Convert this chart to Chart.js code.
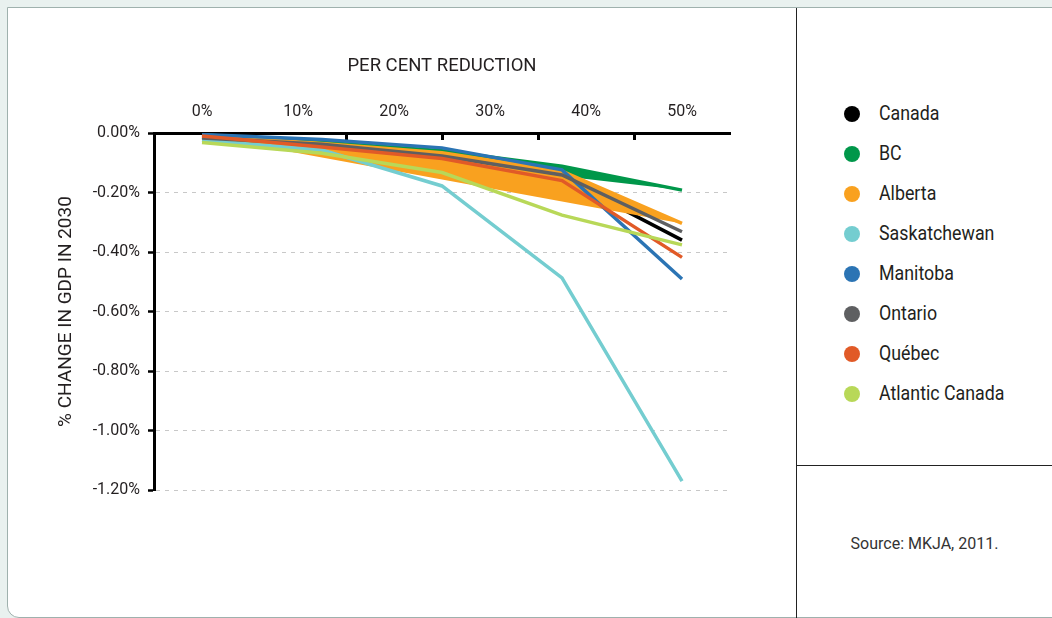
<!DOCTYPE html>
<html>
<head>
<meta charset="utf-8">
<script src="https://cdn.jsdelivr.net/npm/chart.js@4.4.1/dist/chart.umd.min.js"></script>
<style>
  html, body { margin: 0; padding: 0; }
  body {
    width: 1052px; height: 618px; position: relative; overflow: hidden;
    background: #e9f1ef;
    font-family: Roboto, "Liberation Sans", sans-serif;
    color: #231f20;
  }
  .card {
    position: absolute; left: 7px; top: 7px; width: 1070px; height: 609px;
    background: #fff; border: 1px solid #9fb1ad; border-radius: 0 0 0 12px;
  }
  .vline { position: absolute; left: 796px; top: 8px; width: 1px; height: 620px; background: #222; }
  .hline { position: absolute; left: 796px; top: 465px; width: 260px; height: 1px; background: #222; }
  #chart { position: absolute; left: 0; top: 0; }
  #legend { position: absolute; left: 844px; top: 93px; margin: 0; padding: 0; list-style: none; }
  #legend li { height: 40px; line-height: 40px; font-size: 20px; white-space: nowrap; }
  #legend .dot {
    display: inline-block; width: 16px; height: 16px; border-radius: 50%;
    vertical-align: middle; margin-right: 19px; position: relative; top: -1px;
  }
  #legend .name { display: inline-block; transform: scaleX(0.89); transform-origin: left center; }
  .source { position: absolute; left: 797px; width: 255px; top: 534px; text-align: center; font-size: 16px; color: #333; }
</style>
</head>
<body>
<div class="card"></div>
<div class="vline"></div>
<div class="hline"></div>
<canvas id="chart" width="796" height="618"></canvas>
<ul id="legend"></ul>
<div class="source">Source: MKJA, 2011.</div>

<script>
// per cent reduction levels (x) and % change in GDP in 2030 (y)
const reductions = [0, 12.5, 25, 37.5, 50];

const canada       = [-0.014, -0.036, -0.075, -0.150, -0.360];
const bc           = [-0.006, -0.031, -0.060, -0.112, -0.192];
const alberta      = [-0.008, -0.035, -0.066, -0.128, -0.304];
const saskatchewan = [-0.024, -0.057, -0.178, -0.487, -1.170];
const manitoba     = [-0.005, -0.022, -0.050, -0.124, -0.491];
const ontario      = [-0.017, -0.038, -0.077, -0.141, -0.332];
const quebec       = [-0.010, -0.047, -0.086, -0.160, -0.418];
const atlantic     = [-0.032, -0.068, -0.133, -0.276, -0.376];

const regionNames = ['Canada', 'BC', 'Alberta', 'Saskatchewan', 'Manitoba', 'Ontario', 'Québec', 'Atlantic Canada'];
const regionValues = [canada, bc, alberta, saskatchewan, manitoba, ontario, quebec, atlantic];
const regionColors = ['#000000', '#00974a', '#f9a11f', '#74cdd0', '#2b74b4', '#5e5f61', '#e15a27', '#b8d858'];
// BC and Alberta are drawn as closed shapes in the original
const regionFill = [false, 'shape', 'shape', false, false, false, false, false];

const xTickLabels = ['0%', '10%', '20%', '30%', '40%', '50%'];

Chart.defaults.font.family = 'Roboto, "Liberation Sans", sans-serif';
Chart.defaults.color = '#231f20';

// Legend (HTML, right panel)
const legendEl = document.getElementById('legend');
regionNames.forEach((name, i) => {
  const li = document.createElement('li');
  li.innerHTML = '<span class="dot" style="background:' + regionColors[i] + '"></span><span class="name">' + name + '</span>';
  legendEl.appendChild(li);
});

const datasets = regionNames.map((name, i) => ({
  label: name,
  data: reductions.map((x, j) => ({ x: x, y: regionValues[i][j] })),
  borderColor: regionColors[i],
  backgroundColor: regionColors[i],
  borderWidth: 3.5,
  fill: regionFill[i],
  tension: 0,
  pointRadius: 0,
  order: regionNames.length - i // first series at the bottom, like the original
}));

new Chart(document.getElementById('chart'), {
  type: 'line',
  data: { datasets: datasets },
  options: {
    responsive: false,
    animation: false,
    layout: { padding: { left: 0, top: 0, right: 66, bottom: 128 } },
    plugins: {
      legend: { display: false },
      tooltip: { enabled: false }
    },
    scales: {
      x: {
        type: 'linear',
        position: 'top',
        min: -5,
        max: 55,
        afterFit: (scale) => { scale.height = 133; },
        ticks: {
          stepSize: 5,
          autoSkip: false,
          maxRotation: 0,
          padding: 18,
          font: { size: 16 },
          color: '#231f20',
          callback: (v) => {
            const k = Math.round(v);
            return (k >= 0 && k % 10 === 0) ? xTickLabels[k / 10] : '';
          }
        },
        grid: {
          drawOnChartArea: false,
          drawTicks: true,
          tickLength: -7,
          tickWidth: 3,
          tickColor: (ctx) => {
            const k = Math.round(ctx.tick.value);
            return (k % 10 === 0 || k === 55) ? 'rgba(0,0,0,0)' : '#000';
          }
        },
        border: { color: '#000', width: 3 },
        title: {
          display: true,
          text: 'PER CENT REDUCTION',
          font: { size: 18.5 },
          color: '#231f20',
          padding: { top: 55, bottom: 0 }
        }
      },
      y: {
        min: -1.2,
        max: 0,
        afterFit: (scale) => { scale.width = 154; },
        ticks: {
          stepSize: 0.2,
          padding: 8,
          font: { size: 16 },
          color: '#231f20',
          callback: (v) => (Math.abs(v) < 1e-9 ? 0 : v).toFixed(2) + '%'
        },
        grid: {
          color: (ctx) => Math.abs(ctx.tick.value) < 1e-9 ? 'rgba(0,0,0,0)' : '#c8c8c8',
          lineWidth: 1,
          tickLength: 6,
          tickWidth: 2.5,
          tickColor: '#000',
          tickBorderDash: []
        },
        border: { color: '#000', width: 3, dash: [4, 5] },
        title: {
          display: true,
          text: '% CHANGE IN GDP IN 2030',
          font: { size: 19 },
          color: '#231f20',
          padding: { top: 55, bottom: 0 }
        }
      }
    }
  }
});
</script>
</body>
</html>
